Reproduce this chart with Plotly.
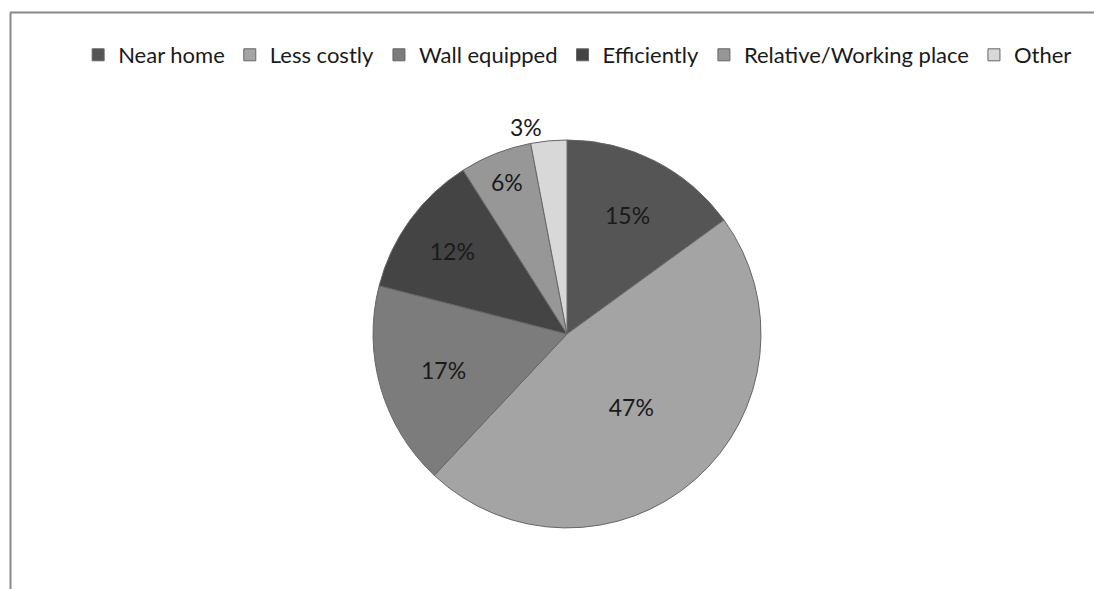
import plotly.graph_objects as go

labels = ["Near home", "Less costly", "Wall equipped", "Efficiently", "Relative/Working place", "Other"]
values = [15, 47, 17, 12, 6, 3]
colors = ["#555555", "#a4a4a4", "#7c7c7c", "#444444", "#979797", "#d8d8d8"]
text_positions = ["inside", "inside", "inside", "inside", "inside", "outside"]

fig = go.Figure(go.Pie(
    labels=labels,
    values=values,
    sort=False,
    direction="clockwise",
    rotation=0,
    marker=dict(colors=colors, line=dict(color="#666666", width=1)),
    textinfo="percent",
    texttemplate="%{percent:.0%}",
    textposition=text_positions,
    insidetextorientation="horizontal",
    textfont=dict(family="Lato", size=23, color="#1a1a1a"),
    outsidetextfont=dict(family="Lato", size=23, color="#1a1a1a"),
    domain=dict(x=[0.341, 0.6956], y=[0.083, 0.783]),
    hole=0,
))

fig.update_layout(
    width=1094, height=589,
    margin=dict(l=0, r=0, t=0, b=0),
    paper_bgcolor="white",
    plot_bgcolor="white",
    font=dict(family="Lato", size=22, color="#1a1a1a"),
    legend=dict(orientation="h", x=0.528, xanchor="center", y=1 - 55 / 589, yanchor="middle",
                font=dict(family="Lato", size=22), itemwidth=30, tracegroupgap=0,
                bgcolor="rgba(0,0,0,0)"),
    shapes=[
        dict(type="line", xref="paper", yref="paper", x0=10/1094, x1=1.0, y0=1-12.5/589, y1=1-12.5/589,
             line=dict(color="#888888", width=2)),
        dict(type="line", xref="paper", yref="paper", x0=10.5/1094, x1=10.5/1094, y0=0, y1=1-12.5/589,
             line=dict(color="#888888", width=2)),
    ],
)

fig.write_html("out.html")
